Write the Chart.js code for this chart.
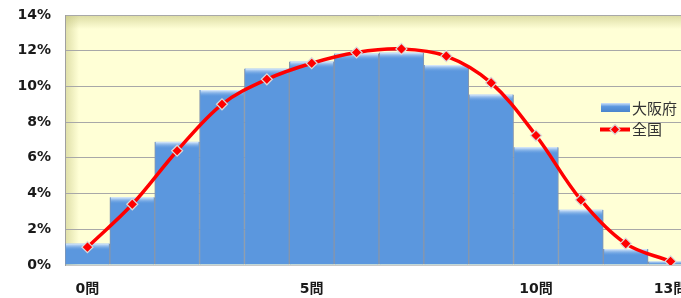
<!DOCTYPE html>
<html>
<head>
<meta charset="utf-8">
<script src="https://cdn.jsdelivr.net/npm/chart.js@4.4.0/dist/chart.umd.min.js"></script>
<style>
  html, body { margin: 0; padding: 0; background: #fff; overflow: hidden; }
  #wrap { width: 700px; height: 298px; }
</style>
</head>
<body>
<div id="wrap"><canvas id="grafico"></canvas></div>
<script>
const categorias = ["0問", "1問", "2問", "3問", "4問", "5問", "6問", "7問", "8問", "9問", "10問", "11問", "12問", "13問"];
const rotulosX = ["0問", "", "", "", "", "5問", "", "", "", "", "10問", "", "", "13問"];
const osaka = [1.2, 3.8, 6.9, 9.8, 11.0, 11.4, 11.85, 11.9, 11.2, 9.55, 6.6, 3.1, 0.9, 0.2];
const zenkoku = [1.0, 3.4, 6.4, 9.0, 10.4, 11.3, 11.9, 12.1, 11.7, 10.2, 7.25, 3.65, 1.2, 0.2];
const ticksY = [0, 2, 4, 6, 8, 10, 12, 14];

const fonteEixo = { family: "'DejaVu Sans', 'Noto Sans CJK JP', sans-serif", size: 14, weight: "bold" };
const azul = "#5b97de";

// fundo amarelo do plot com bisel
const fundoPlot = {
  id: "fundoPlot",
  beforeDraw(chart) {
    const { ctx, chartArea: a } = chart;
    ctx.save();
    ctx.fillStyle = "#ffffd6";
    ctx.fillRect(a.left, a.top, a.right - a.left, a.bottom - a.top);
    let g = ctx.createLinearGradient(0, a.top, 0, a.top + 14);
    g.addColorStop(0, "rgba(190,190,120,0.55)");
    g.addColorStop(1, "rgba(190,190,120,0)");
    ctx.fillStyle = g;
    ctx.fillRect(a.left, a.top, a.right - a.left, 14);
    g = ctx.createLinearGradient(a.left, 0, a.left + 14, 0);
    g.addColorStop(0, "rgba(190,190,120,0.5)");
    g.addColorStop(1, "rgba(190,190,120,0)");
    ctx.fillStyle = g;
    ctx.fillRect(a.left, a.top, 14, a.bottom - a.top);
    ctx.restore();
  }
};

// brilho no topo das barras
const brilhoBarras = {
  id: "brilhoBarras",
  afterDatasetDraw(chart, args) {
    if (args.meta.type !== "bar") return;
    const { ctx } = chart;
    ctx.save();
    args.meta.data.forEach((bar) => {
      const p = bar.getProps(["x", "y", "base", "width"], true);
      if (!isFinite(p.y) || !isFinite(p.base)) return;
      const esq = p.x - p.width / 2 + 1;
      const h = Math.min(7, p.base - p.y);
      if (h <= 0) return;
      const g = ctx.createLinearGradient(0, p.y, 0, p.y + h);
      g.addColorStop(0, "rgba(235,245,255,0.95)");
      g.addColorStop(1, "rgba(91,151,222,0)");
      ctx.fillStyle = g;
      ctx.fillRect(esq, p.y, p.width - 2, h);
    });
    ctx.restore();
  }
};

// legenda dentro do plot, à direita
const legendaPlot = {
  id: "legendaPlot",
  afterDraw(chart) {
    const { ctx } = chart;
    const ds = chart.data.datasets;
    ctx.save();
    const g = ctx.createLinearGradient(0, 103, 0, 112);
    g.addColorStop(0, "#cfe3fa");
    g.addColorStop(0.4, azul);
    g.addColorStop(1, "#4a84cc");
    ctx.fillStyle = g;
    ctx.fillRect(601, 103, 29, 9);
    ctx.strokeStyle = "#ff0000";
    ctx.lineWidth = 4;
    ctx.beginPath();
    ctx.moveTo(600, 129.5);
    ctx.lineTo(630, 129.5);
    ctx.stroke();
    ctx.fillStyle = "#ff0000";
    ctx.strokeStyle = "#d9d9d9";
    ctx.lineWidth = 1.2;
    ctx.beginPath();
    ctx.moveTo(615, 124.5);
    ctx.lineTo(620, 129.5);
    ctx.lineTo(615, 134.5);
    ctx.lineTo(610, 129.5);
    ctx.closePath();
    ctx.fill();
    ctx.stroke();
    ctx.fillStyle = "#333";
    ctx.font = "15px 'Noto Sans CJK JP', sans-serif";
    ctx.textBaseline = "middle";
    ctx.fillText(ds[1].label, 632, 108);
    ctx.fillText(ds[0].label, 632, 129);
    ctx.restore();
  }
};

new Chart(document.getElementById("grafico"), {
  data: {
    labels: categorias,
    datasets: [
      {
        type: "line",
        label: "全国",
        data: zenkoku,
        borderColor: "#ff0000",
        borderWidth: 3.5,
        tension: 0.35,
        pointStyle: "rectRot",
        pointRadius: 5.5,
        pointBackgroundColor: "#ff0000",
        pointBorderColor: "#d9d9d9",
        pointBorderWidth: 1.2,
        order: 0
      },
      {
        type: "bar",
        label: "大阪府",
        data: osaka,
        backgroundColor: azul,
        borderColor: "#8796ab",
        borderWidth: { left: 1, right: 1, top: 0, bottom: 0 },
        borderSkipped: false,
        barPercentage: 1,
        categoryPercentage: 1,
        order: 1
      }
    ]
  },
  options: {
    responsive: true,
    maintainAspectRatio: false,
    animation: false,
    layout: { padding: { top: 15, right: 7, left: 0, bottom: 0 } },
    plugins: { legend: { display: false }, tooltip: { enabled: false } },
    scales: {
      x: {
        grid: { display: false },
        border: { color: "#c8c8c8" },
        afterFit: (s) => { s.height = 33; s.paddingLeft = 0; s.paddingRight = 0; },
        ticks: {
          autoSkip: false,
          maxRotation: 0,
          padding: 8,
          color: "#1a1a1a",
          font: fonteEixo,
          callback: (v, i) => rotulosX[i]
        }
      },
      y: {
        min: 0,
        max: 14,
        afterFit: (s) => { s.width = 65; s.paddingTop = 0; s.paddingBottom = 0; },
        afterBuildTicks: (s) => { s.ticks = ticksY.map((v) => ({ value: v })); },
        grid: { color: "#a8a8a8", drawTicks: false },
        border: { color: "#a0a0a0" },
        ticks: {
          padding: 14,
          color: "#1a1a1a",
          font: fonteEixo,
          callback: (v) => v + "%"
        }
      }
    }
  },
  plugins: [fundoPlot, brilhoBarras, legendaPlot]
});
</script>
</body>
</html>
